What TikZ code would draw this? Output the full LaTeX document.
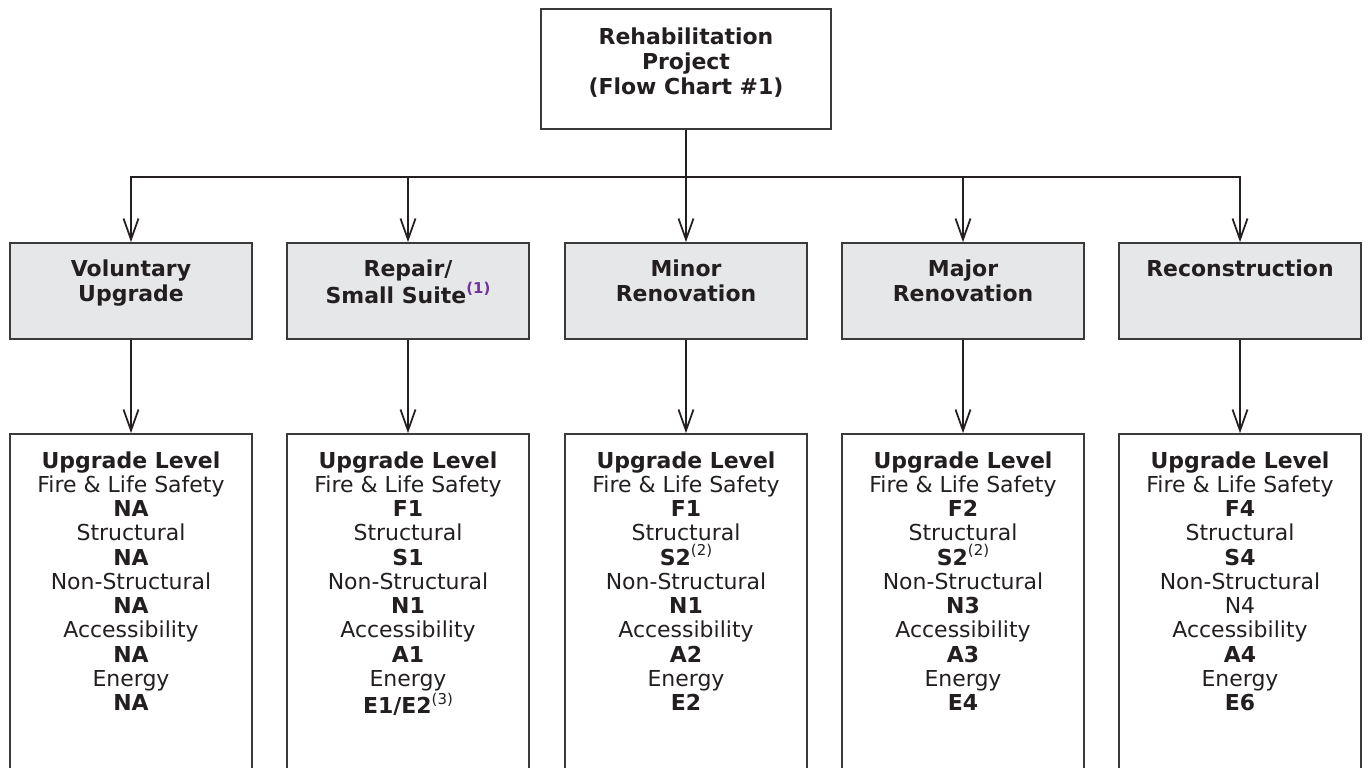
\documentclass[tikz,border=0pt]{standalone}
\usepackage{fontspec}
\setmainfont{DejaVu Sans}
\usepackage{xcolor}
\definecolor{boxline}{HTML}{3A3A3A}
\definecolor{boxfill}{HTML}{E6E7E8}
\definecolor{inkline}{HTML}{231F20}
\definecolor{notepurple}{HTML}{7030A0}
\usepackage{tikz}
\usetikzlibrary{arrows.meta,positioning}
\newcommand{\flownote}[1]{\raisebox{0.45em}{\fontsize{8.5}{8.5}\selectfont #1}}

\begin{document}
\begin{tikzpicture}[
  topbox/.style={draw=boxline, line width=1pt, fill=white, minimum width=5.8cm, minimum height=2.4cm},
  catbox/.style={draw=boxline, line width=1pt, fill=boxfill, minimum width=4.84cm, minimum height=1.92cm},
  levelbox/.style={draw=boxline, line width=1pt, fill=white, minimum width=4.84cm, minimum height=6.92cm},
  headtxt/.style={anchor=north, inner sep=0pt, align=center, text=inkline, font=\fontsize{12.5}{14.2}\selectfont\bfseries},
  leveltxt/.style={anchor=north, inner sep=0pt, align=center, text=inkline, font=\fontsize{12.5}{13.8}\selectfont},
  arr/.style={-{Straight Barb[length=0.42cm, width=0.3cm]}, line width=1pt, inkline}
]
  \clip (0,0) rectangle (27.36,-15.36);

  % project box
  \node[topbox] (project) at (13.72,-1.38) {};
  \node[headtxt, below=0.38cm of project.north] (project-t) {Rehabilitation\\Project\\(Flow Chart \#1)};

  % project categories
  \node[catbox] (vol) at (2.62,-5.82) {};
  \node[catbox] (rep) at (8.16,-5.82) {};
  \node[catbox] (minor) at (13.72,-5.82) {};
  \node[catbox] (major) at (19.26,-5.82) {};
  \node[catbox] (recon) at (24.8,-5.82) {};
  \node[headtxt, below=0.34cm of vol.north] (vol-t) {Voluntary\\Upgrade};
  \node[headtxt, below=0.34cm of rep.north] (rep-t) {Repair/\\Small Suite\flownote{\textcolor{notepurple}{(1)}}};
  \node[headtxt, below=0.34cm of minor.north] (minor-t) {Minor\\Renovation};
  \node[headtxt, below=0.34cm of major.north] (major-t) {Major\\Renovation};
  \node[headtxt, below=0.34cm of recon.north] (recon-t) {Reconstruction};

  % upgrade levels
  \node[levelbox] (vol-lvl) at (2.62,-12.14) {};
  \node[levelbox] (rep-lvl) at (8.16,-12.14) {};
  \node[levelbox] (minor-lvl) at (13.72,-12.14) {};
  \node[levelbox] (major-lvl) at (19.26,-12.14) {};
  \node[levelbox] (recon-lvl) at (24.8,-12.14) {};
  \node[leveltxt, below=0.36cm of vol-lvl.north] (vol-lt) {\textbf{Upgrade Level}\\Fire \& Life Safety\\\textbf{NA}\\Structural\\\textbf{NA}\\Non-Structural\\\textbf{NA}\\Accessibility\\\textbf{NA}\\Energy\\\textbf{NA}};
  \node[leveltxt, below=0.36cm of rep-lvl.north] (rep-lt) {\textbf{Upgrade Level}\\Fire \& Life Safety\\\textbf{F1}\\Structural\\\textbf{S1}\\Non-Structural\\\textbf{N1}\\Accessibility\\\textbf{A1}\\Energy\\\textbf{E1/E2}\flownote{(3)}};
  \node[leveltxt, below=0.36cm of minor-lvl.north] (minor-lt) {\textbf{Upgrade Level}\\Fire \& Life Safety\\\textbf{F1}\\Structural\\\textbf{S2}\flownote{(2)}\\Non-Structural\\\textbf{N1}\\Accessibility\\\textbf{A2}\\Energy\\\textbf{E2}};
  \node[leveltxt, below=0.36cm of major-lvl.north] (major-lt) {\textbf{Upgrade Level}\\Fire \& Life Safety\\\textbf{F2}\\Structural\\\textbf{S2}\flownote{(2)}\\Non-Structural\\\textbf{N3}\\Accessibility\\\textbf{A3}\\Energy\\\textbf{E4}};
  \node[leveltxt, below=0.36cm of recon-lvl.north] (recon-lt) {\textbf{Upgrade Level}\\Fire \& Life Safety\\\textbf{F4}\\Structural\\\textbf{S4}\\Non-Structural\\N4\\Accessibility\\\textbf{A4}\\Energy\\\textbf{E6}};

  % connectors
  \coordinate (bus) at (13.72,-3.54);
  \draw[arr] (project.south) -- (bus) -| (vol.north);
  \draw[arr] (project.south) -- (bus) -| (rep.north);
  \draw[arr] (project.south) -- (minor.north);
  \draw[arr] (project.south) -- (bus) -| (major.north);
  \draw[arr] (project.south) -- (bus) -| (recon.north);
  \draw[arr] (vol.south) -- (vol-lvl.north);
  \draw[arr] (rep.south) -- (rep-lvl.north);
  \draw[arr] (minor.south) -- (minor-lvl.north);
  \draw[arr] (major.south) -- (major-lvl.north);
  \draw[arr] (recon.south) -- (recon-lvl.north);
\end{tikzpicture}
\end{document}
